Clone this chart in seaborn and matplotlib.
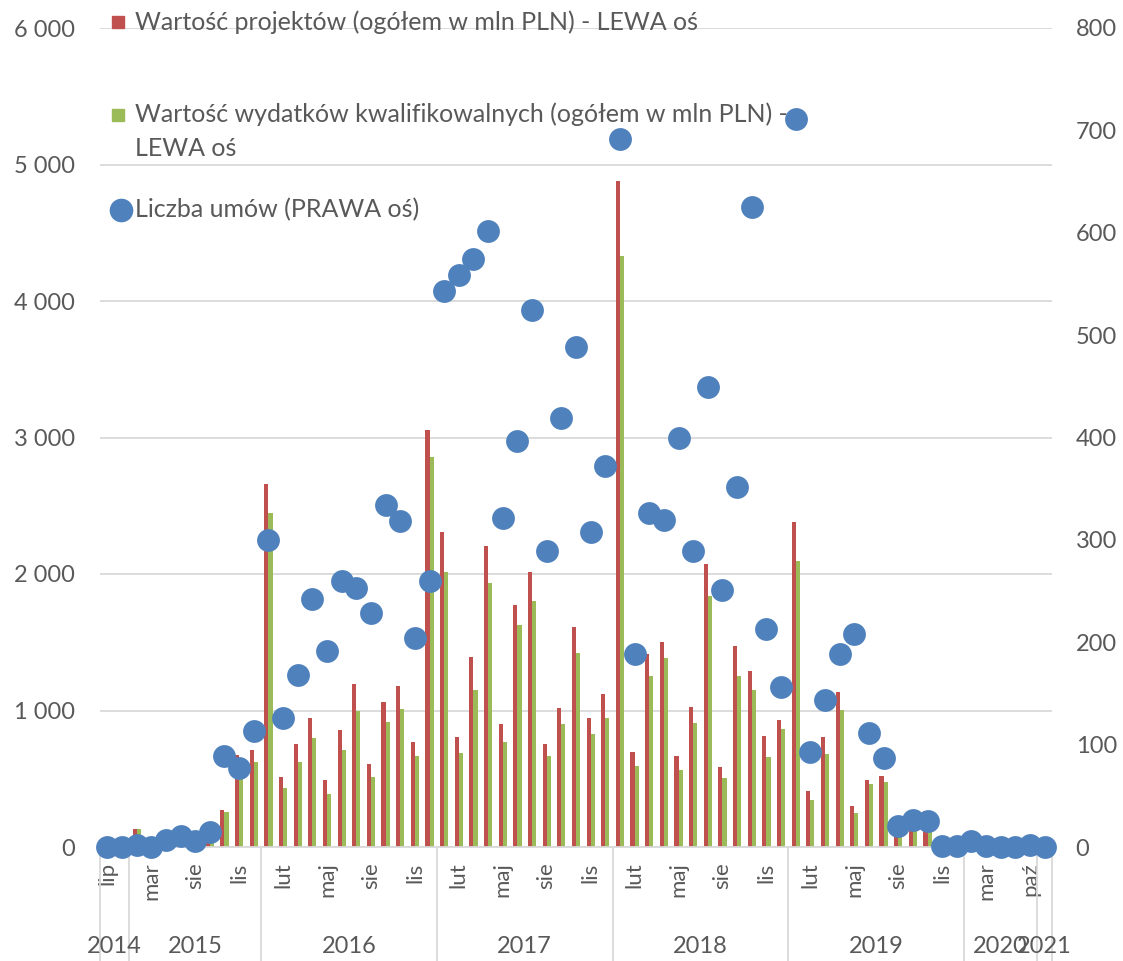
import numpy as np
import pandas as pd
import matplotlib
matplotlib.use('Agg')
import matplotlib.pyplot as plt
import seaborn as sns
from matplotlib.transforms import blended_transform_factory

# months grouped by year (only every 3rd label is shown on the axis)
years = ['2014', '2015', '2016', '2017', '2018', '2019', '2020', '2021']
full_year = ['sty', 'lut', 'mar', 'kwi', 'maj', 'cze', 'lip', 'sie', 'wrz', 'paź', 'lis', 'gru']
year_months = [
    ['lip', 'gru'],
    ['lut', 'mar', 'maj', 'lip', 'sie', 'wrz', 'paź', 'lis', 'gru'],
    full_year, full_year, full_year, full_year,
    ['lut', 'mar', 'maj', 'lip', 'paź'],
    ['sty'],
]

# Wartość projektów (mln PLN) - left axis
projekty = [0, 0, 130, 0, 0, 40, 20, 60, 273, 676, 711,
            2657, 515, 752, 947, 491, 855, 1192, 606, 1062, 1179, 767, 3053,
            2308, 808, 1394, 2202, 899, 1776, 2011, 758, 1015, 1612, 945, 1120,
            4880, 698, 1413, 1500, 670, 1022, 2076, 583, 1476, 1291, 813, 932,
            2383, 408, 803, 1134, 297, 488, 518, 140, 261, 261, 0, 0,
            0, 0, 0, 0, 0, 0]
# Wartość wydatków kwalifikowalnych (mln PLN) - left axis
kwalifikowalne = [0, 0, 130, 0, 0, 25, 15, 49, 256, 550, 623,
                  2444, 435, 623, 801, 386, 711, 996, 515, 918, 1008, 664, 2856,
                  2011, 689, 1149, 1932, 767, 1629, 1801, 664, 899, 1420, 830, 945,
                  4330, 593, 1256, 1385, 565, 907, 1839, 506, 1256, 1151, 656, 865,
                  2094, 342, 680, 1005, 251, 461, 478, 110, 244, 256, 0, 0,
                  0, 0, 0, 0, 0, 0]
# Liczba umów - right axis
umowy = [0, 0, 2, 0, 7, 11, 6, 15, 89, 77, 113,
         300, 126, 168, 242, 191, 260, 253, 229, 334, 318, 204, 260,
         543, 559, 574, 602, 321, 397, 525, 289, 419, 488, 308, 372,
         692, 189, 326, 319, 400, 289, 449, 251, 352, 625, 213, 156,
         711, 93, 144, 189, 208, 111, 87, 21, 26, 25, 1, 1,
         6, 1, 0, 0, 2, 0]

RED = '#C0504D'
GREEN = '#9BBB59'
BLUE = '#4F81BD'
GRAY = '#595959'
LINE = '#D9D9D9'

months = [m for ms in year_months for m in ms]
n = len(months)
idx = np.arange(n)

df = pd.DataFrame({
    'idx': np.concatenate([idx, idx]),
    'value': projekty + kwalifikowalne,
    'series': ['proj'] * n + ['kwal'] * n,
})

sns.set_style('white')
plt.rcParams['font.family'] = ['Lato', 'DejaVu Sans']

W, H = 1123, 961
fig = plt.figure(figsize=(W / 100, H / 100), dpi=100)
ax = fig.add_axes([100 / W, 114 / H, 952 / W, 819 / H])

sns.barplot(data=df, x='idx', y='value', hue='series', palette=[RED, GREEN],
            width=0.56, saturation=1, linewidth=0, legend=False, ax=ax)
ax.set_xlim(-0.5, n - 0.5)
ax.set_ylim(0, 6000)
ax.set_xlabel('')
ax.set_ylabel('')
ax.yaxis.grid(True, color=LINE, lw=1.3)
ax.set_axisbelow(True)
for s in ['top', 'left', 'right']:
    ax.spines[s].set_visible(False)
ax.spines['bottom'].set_color(LINE)
ax.spines['bottom'].set_linewidth(1.3)

yt = list(range(0, 6001, 1000))
ax.set_yticks(yt)
ax.set_yticklabels([f'{v:,}'.replace(',', ' ') for v in yt])
ax.set_xticks(idx)
ax.set_xticklabels([m if i % 3 == 0 else '' for i, m in enumerate(months)], rotation=90)
ax.tick_params(axis='y', length=0, pad=18, labelsize=17, labelcolor=GRAY)
ax.tick_params(axis='x', length=0, pad=11, labelsize=16, labelcolor=GRAY)

ax2 = ax.twinx()
sns.scatterplot(x=idx, y=umowy, ax=ax2, color=BLUE, s=270, linewidth=0,
                clip_on=False, zorder=5)
ax2.set_ylim(0, 800)
ax2.set_yticks(range(0, 801, 100))
ax2.set_ylabel('')
for s in ['top', 'left', 'right', 'bottom']:
    ax2.spines[s].set_visible(False)
ax2.tick_params(axis='y', length=0, pad=17, labelsize=17, labelcolor=GRAY)

# year labels and separators under the month labels
trans = blended_transform_factory(ax.transData, ax.transAxes)
start = 0
bounds = [-0.5]
for y, ms in zip(years, year_months):
    c = len(ms)
    ax.text(start + (c - 1) / 2, -0.122, y, transform=trans, ha='center', va='center',
            fontsize=17, color=GRAY)
    start += c
    bounds.append(start - 0.5)
for b in bounds:
    ax.plot([b, b], [0, -0.145], transform=trans, clip_on=False, color=LINE, lw=1.3)

# legend (drawn in the lower axes so the dots sit on top of it)
def fp(x, y):
    return x / W, 1 - y / H

leg_fs = 18
ax.plot(*fp(118, 22), marker='s', ms=9, color=RED, transform=fig.transFigure, clip_on=False)
ax.text(*fp(135, 22), 'Wartość projektów (ogółem w mln PLN) - LEWA oś', transform=fig.transFigure,
        ha='left', va='center', fontsize=leg_fs, color=GRAY)
ax.plot(*fp(118, 115), marker='s', ms=9, color=GREEN, transform=fig.transFigure, clip_on=False)
ax.text(*fp(135, 131), 'Wartość wydatków kwalifikowalnych (ogółem w mln PLN) -\nLEWA oś',
        transform=fig.transFigure, ha='left', va='center', fontsize=leg_fs, color=GRAY,
        linespacing=1.6)
ax.plot(*fp(121, 210), marker='o', ms=16, color=BLUE, transform=fig.transFigure, clip_on=False)
ax.text(*fp(135, 210), 'Liczba umów (PRAWA oś)', transform=fig.transFigure,
        ha='left', va='center', fontsize=leg_fs, color=GRAY)

fig.savefig('out.png', dpi=100)
